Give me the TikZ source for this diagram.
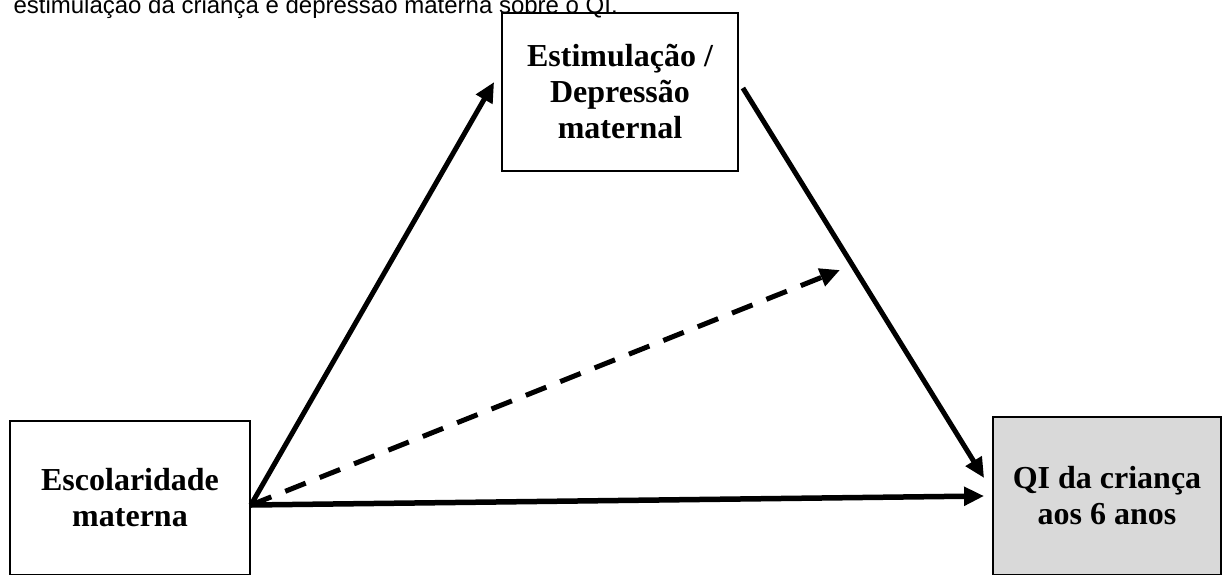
\documentclass[tikz,border=0pt]{standalone}
\usepackage{fontspec}
\setmainfont{Liberation Serif}
\newfontfamily\arialfont{Liberation Sans}
\usetikzlibrary{arrows.meta,positioning}
\definecolor{qigray}{RGB}{217,217,217}
\begin{document}
\begin{tikzpicture}[x=1pt,y=-1pt,
    varbox/.style={draw=black,line width=1.8pt,align=center,inner sep=0pt,
      font=\fontsize{32}{36}\selectfont\bfseries},
    path/.style={line width=5pt,-{Triangle[length=20pt,width=18pt]}},
    indirect/.style={path,dash pattern=on 22pt off 15pt}]
                \useasboundingbox (0,0) rectangle (1224,574);
                \node [anchor=base west,font=\arialfont\fontsize{24}{28}\selectfont] (caption) at (10,13) {estimulação da criança e depressão materna sobre o QI.};
                \node [varbox,minimum width=236pt,minimum height=158pt] (stim) at (620,92) {Estimulação /\\Depressão\\maternal};
                \node [varbox,minimum width=240pt,minimum height=154pt] (esc) at (130,498) {Escolaridade\\materna};
                \node [varbox,fill=qigray,minimum width=228pt,minimum height=158pt] (qi) at (1107,496) {QI da criança\\aos 6 anos};
                \coordinate (mid) at (840,270);
                \draw [path] ([yshift=-7pt]esc.east) -- ([xshift=-7pt,yshift=10pt]stim.west);
                \draw [path] ([xshift=4pt,yshift=4pt]stim.east) -- ([xshift=-8pt,yshift=18pt]qi.west);
                \draw [path,line width=5.5pt] ([yshift=-7pt]esc.east) -- ([xshift=-8pt]qi.west);
                \draw [indirect] ([yshift=-7pt]esc.east) -- (mid);
\end{tikzpicture}
\end{document}
